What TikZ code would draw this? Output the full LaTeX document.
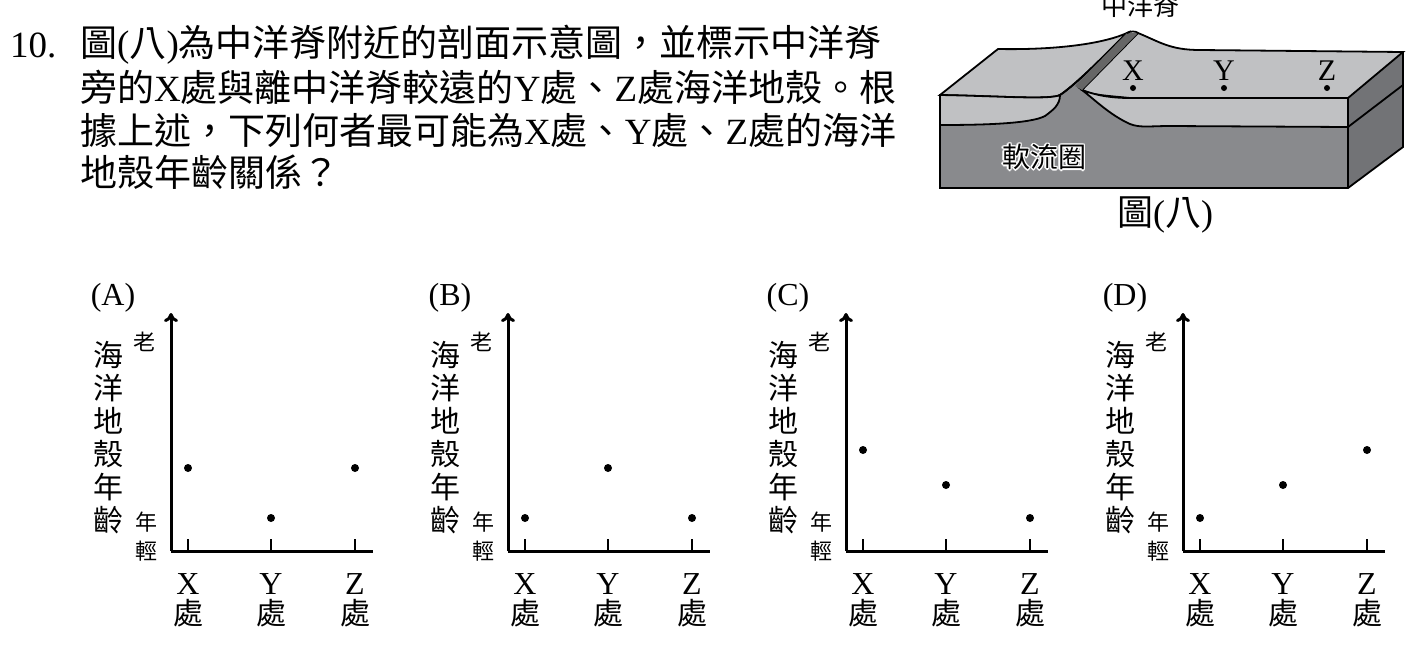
\documentclass[tikz,border=0pt]{standalone}
\usepackage{fontspec}
\setmainfont{Liberation Serif}
\newfontfamily\cjk{Noto Sans CJK TC}
\usetikzlibrary{positioning,arrows.meta}
\definecolor{crust}{HTML}{C0C1C3}
\definecolor{mantle}{HTML}{898A8D}
\definecolor{sideface}{HTML}{727376}
\tikzset{
  qtext/.style={anchor=west,inner sep=0pt,font=\fontsize{37}{37}\selectfont},
  ylab/.style={inner sep=0pt,font=\cjk\fontsize{30}{30}\selectfont},
  small/.style={inner sep=0pt,font=\cjk\fontsize{22}{22}\selectfont},
  dot/.style={circle,fill=black,inner sep=0pt,minimum size=8pt},
  edge/.style={line width=1.8pt},
}
\newcommand{\agechart}[5]{%
  % one chart: x offset, letter, heights of X, Y, Z
  \begin{scope}[xshift=#1]
  \node[inner sep=0pt,font=\fontsize{32}{32}\selectfont] (lab#2) at (113,298) {(#2)};
  \coordinate (o#2) at (171,551);
  \draw[line width=3pt,-{To[length=9pt,width=14pt]}] (o#2) -- (171,313);
  \draw[line width=3pt] (o#2) -- (373,551);
  \foreach \n/\x in {X/188,Y/271,Z/355}{
    \draw[line width=2.6pt] (\x,551) -- (\x,539);
    \node[inner sep=0pt,font=\fontsize{32}{32}\selectfont] (\n#2) at (\x,584) {\n};
    \node[ylab] (c\n#2) at (\x,613) {處};
  }
  \foreach \c [count=\i] in {海,洋,地,殼,年,齡}
    \node[ylab] at (108,322+33*\i) {\c};
  \node[small] (old#2) at (144,342) {老};
  \node[small] (yng#2) at (146,522) {年};
  \node[small] at (146,551) {輕};
  \node[dot] (dX#2) at (188,#3) {};
  \node[dot] (dY#2) at (271,#4) {};
  \node[dot] (dZ#2) at (355,#5) {};
  \end{scope}}
\begin{document}
\begin{tikzpicture}[x=1pt,y=-1pt]
\useasboundingbox (0,0) rectangle (1419,646);
% question
\node[qtext] (num) at (10,45) {10.};
\node[qtext] (l1) at (80,45) {\cjk 圖\rm(\cjk 八\rm)\cjk 為中洋脊附近的剖面示意圖，並標示中洋脊};
\node[qtext] (l2) at (80,87) {\cjk 旁的\rm X\cjk 處與離中洋脊較遠的\rm Y\cjk 處、\rm Z\cjk 處海洋地殼。根};
\node[qtext] (l3) at (80,130) {\cjk 據上述，下列何者最可能為\rm X\cjk 處、\rm Y\cjk 處、\rm Z\cjk 處的海洋};
\node[qtext] (l4) at (80,172) {\cjk 地殼年齡關係？};
% block diagram
\fill[mantle] (940,125) -- (1045,116) -- (1060,95) -- (1127,33) -- (1138,33) -- (1082,90) -- (1137,125) -- (1348,127) -- (1348,188) -- (940,188) -- cycle;
\fill[sideface] (1348,98) -- (1403,52) -- (1403,147) -- (1348,188) -- cycle;
\draw[edge] (940,125) -- (940,188) -- (1348,188) -- (1403,147) -- (1403,52);
\draw[edge] (1348,98) -- (1348,188);
% left plate
\filldraw[fill=crust,edge] (940,95) -- (998,49) .. controls (1050,50) and (1100,45) .. (1127,33)
  .. controls (1100,60) and (1075,85) .. (1060,95) .. controls (1050,100) and (1000,96) .. cycle;
\filldraw[fill=crust,edge] (940,95) .. controls (1000,96) and (1050,100) .. (1060,95)
  .. controls (1060,105) and (1053,110) .. (1045,116) .. controls (1030,124) and (980,125) .. (940,125) -- cycle;
\draw[edge] (1060,95) .. controls (1075,85) and (1100,60) .. (1127,33);
% right plate
\filldraw[fill=crust,edge] (1138,33) .. controls (1160,42) and (1170,50) .. (1200,50)
  -- (1403,52) -- (1348,98) -- (1130,98) .. controls (1110,96) and (1090,95) .. (1082,90) -- cycle;
\filldraw[fill=crust,edge] (1082,90) .. controls (1095,95) and (1110,98) .. (1130,98) -- (1348,98)
  -- (1348,127) -- (1170,126) .. controls (1150,126) and (1140,128) .. (1130,124)
  .. controls (1110,115) and (1095,100) .. cycle;
\draw[edge] (1348,127) -- (1403,85);
\fill[black!60] (1127,33) -- (1138,33) -- (1082,90) -- (1075,86) -- cycle;
\draw[edge] (1127,33) .. controls (1130,31) and (1136,31) .. (1138,33);
\node[inner sep=0pt,font=\cjk\fontsize{26}{26}\selectfont] (ridge) at (1140,6) {中洋脊};
\foreach \n/\x in {X/1133,Y/1224,Z/1327}{
  \node[inner sep=0pt,font=\fontsize{30}{30}\selectfont] (b\n) at (\x,71) {\n};
  \node[dot,minimum size=6pt] (p\n) at (\x,88) {};
}
\foreach \dx/\dy in {-1.5/0,1.5/0,0/-1.5,0/1.5,-1/-1,1/1,-1/1,1/-1}
  \node[inner sep=0pt,white,font=\cjk\fontsize{28}{28}\selectfont] at (1044+\dx,157+\dy) {軟流圈};
\node[inner sep=0pt,font=\cjk\fontsize{28}{28}\selectfont] (astheno) at (1044,157) {軟流圈};
\node[inner sep=0pt,font=\fontsize{36}{36}\selectfont] (fig8) at (1165,215) {\cjk 圖\rm(\cjk 八\rm)};
% charts
\agechart{0}{A}{468}{518}{468}
\agechart{337}{B}{518}{468}{518}
\agechart{675}{C}{450}{485}{518}
\agechart{1012}{D}{518}{485}{450}
\end{tikzpicture}
\end{document}
